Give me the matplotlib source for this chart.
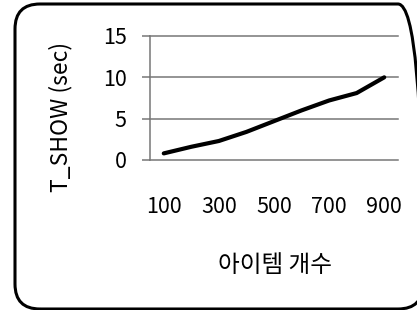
import matplotlib
matplotlib.use("Agg")
import matplotlib.pyplot as plt
from matplotlib.patches import FancyBboxPatch

plt.rcParams['font.family'] = ['Noto Sans CJK KR', 'DejaVu Sans']

# data
item_counts = [100, 200, 300, 400, 500, 600, 700, 800, 900]
t_show = [0.8, 1.6, 2.3, 3.4, 4.7, 6.0, 7.2, 8.1, 10.0]
x_tick_labels = [100, 300, 500, 700, 900]
y_ticks = [0, 5, 10, 15]

fig = plt.figure(figsize=(4.17, 3.10), dpi=100)
ax = fig.add_axes([150 / 417, 150 / 310, 248 / 417, 124 / 310])

ax.plot(item_counts, t_show, color='black', linewidth=3.0,
        solid_capstyle='round', solid_joinstyle='round')

ax.set_xlim(50, 950)
ax.set_ylim(0, 15)
ax.set_yticks(y_ticks)
ax.set_xticks(x_tick_labels)
ax.set_xticklabels([str(v) for v in x_tick_labels])

# horizontal gridlines
for v in y_ticks:
    ax.axhline(v, color='#777777', linewidth=1.1, zorder=0, clip_on=False)

for s in ['top', 'right', 'bottom']:
    ax.spines[s].set_visible(False)
ax.spines['left'].set_color('#777777')
ax.spines['left'].set_linewidth(1.1)

ax.tick_params(axis='y', length=5.8, width=1.1, color='#777777', pad=11,
               labelsize=15.5)
ax.tick_params(axis='x', length=0, pad=26, labelsize=15.5)

ax.set_xlabel('아이템 개수', fontsize=17)
ax.xaxis.set_label_coords(0.504, -0.847)
ax.xaxis.label.set_va('center')

ax.set_ylabel('T_SHOW (sec)', fontsize=16.5)
ax.yaxis.set_label_coords(-0.359, 0.347)
ax.yaxis.label.set_va('center')

# rounded chart border like the Excel chart area (right side runs off the image)
border = FancyBboxPatch((0.15, 0.01), 4.08, 3.05,
                        boxstyle='round,pad=0,rounding_size=0.25',
                        transform=fig.dpi_scale_trans,
                        facecolor='none', edgecolor='black', linewidth=2.2)
fig.patches.append(border)

fig.savefig('out.png', dpi=100)
